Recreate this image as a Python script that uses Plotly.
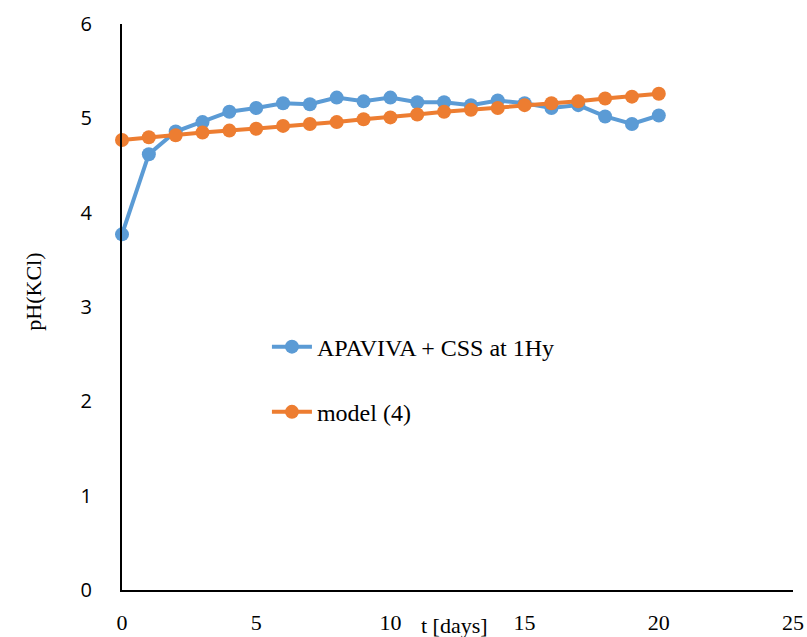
import plotly.graph_objects as go

days = list(range(0, 21))
apaviva = [3.77, 4.62, 4.86, 4.96, 5.07, 5.11, 5.16, 5.15, 5.22, 5.18, 5.22,
           5.17, 5.17, 5.14, 5.19, 5.16, 5.11, 5.14, 5.02, 4.94, 5.03]
model4 = [4.77, 4.80, 4.82, 4.85, 4.87, 4.89, 4.92, 4.94, 4.96, 4.99, 5.01,
          5.04, 5.07, 5.09, 5.11, 5.14, 5.16, 5.18, 5.21, 5.23, 5.26]
x_ticks = [0, 5, 10, 15, 20, 25]
y_ticks = [0, 1, 2, 3, 4, 5, 6]

BLUE = "#5B9BD5"
ORANGE = "#ED7D31"
SERIF = "Liberation Serif, Times New Roman, serif"
SANS = "Open Sans, Liberation Sans, sans-serif"

fig = go.Figure()
fig.add_trace(go.Scatter(x=days, y=apaviva, mode="lines+markers",
                         name="APAVIVA + CSS at 1Hy", legendgroup="a",
                         line=dict(color=BLUE, width=4),
                         marker=dict(color=BLUE, size=14),
                         cliponaxis=False))
fig.add_trace(go.Scatter(x=days, y=model4, mode="lines+markers",
                         name="model (4)", legendgroup="b",
                         line=dict(color=ORANGE, width=4),
                         marker=dict(color=ORANGE, size=14),
                         cliponaxis=False))

fig.update_layout(
    width=807, height=637,
    margin=dict(l=122, r=14, t=24, b=47),
    paper_bgcolor="white", plot_bgcolor="white",
    showlegend=True,
    legend=dict(x=0.216, y=0.469, xanchor="left", yanchor="top",
                font=dict(family=SERIF, size=24, color="black"),
                bgcolor="rgba(0,0,0,0)", tracegroupgap=31,
                itemwidth=40),
    xaxis=dict(range=[0, 25], tickvals=x_ticks, showgrid=False, zeroline=False,
               showline=True, linecolor="black", linewidth=2, ticks="",
               ticklabelstandoff=12, automargin=False,
               tickfont=dict(family=SERIF, size=22, color="black")),
    yaxis=dict(range=[0, 6], tickvals=y_ticks, showgrid=False, zeroline=False,
               showline=True, linecolor="black", linewidth=2, ticks="",
               ticklabelstandoff=24, automargin=False,
               tickfont=dict(family=SANS, size=20, color="black")),
    annotations=[
        dict(text="t [days]", xref="paper", yref="paper",
             x=0.495, y=0, yshift=-35, xanchor="center", yanchor="middle",
             showarrow=False,
             font=dict(family=SERIF, size=22, color="black")),
        dict(text="pH(KCl)", xref="paper", yref="paper",
             x=0, xshift=-88, y=0.527, xanchor="center", yanchor="middle",
             textangle=-90, showarrow=False,
             font=dict(family=SERIF, size=22, color="black")),
    ],
)

fig.write_html("out.html",
               config={"displayModeBar": False},
               post_script="document.body.style.margin='0';"
                           "document.body.style.overflow='hidden';"
                           "document.documentElement.style.overflow='hidden';")
